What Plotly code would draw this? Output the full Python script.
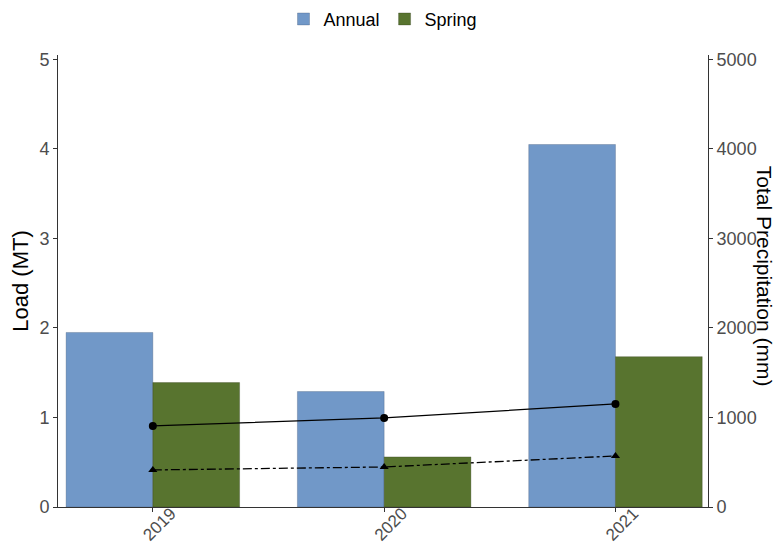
import plotly.graph_objects as go

years = [2019, 2020, 2021]
load_annual = [1.95, 1.29, 4.05]
load_spring = [1.39, 0.56, 1.68]
precip_annual = [906, 995, 1152]
precip_spring = [414, 447, 570]

blue = "#7198c8"
green = "#58742f"
font = "Liberation Sans, Arial, sans-serif"

fig = go.Figure()
fig.add_trace(go.Bar(x=years, y=load_annual, name="Annual", marker=dict(color=blue, line=dict(color="rgba(60,80,110,0.5)", width=0.6)), showlegend=True))
fig.add_trace(go.Bar(x=years, y=load_spring, name="Spring", marker=dict(color=green, line=dict(color="rgba(40,50,20,0.5)", width=0.6)), showlegend=True))
fig.add_trace(go.Scatter(x=years, y=precip_annual, yaxis="y2", mode="lines+markers",
                         line=dict(color="black", width=1.3), marker=dict(symbol="circle", size=8, color="black"),
                         showlegend=False))
fig.add_trace(go.Scatter(x=years, y=precip_spring, yaxis="y2", mode="lines+markers",
                         line=dict(color="black", width=1.3, dash="dashdot"), marker=dict(symbol="triangle-up", size=8, color="black"),
                         showlegend=False))

fig.update_layout(
    width=773, height=541,
    margin=dict(l=50, r=73, t=47, b=42),
    paper_bgcolor="white", plot_bgcolor="white",
    font=dict(family=font, size=18, color="#4d4d4d"),
    barmode="group", bargap=0.25, bargroupgap=0,
    legend=dict(orientation="h", x=0.5, xanchor="center", y=0.945, yanchor="bottom",
                yref="container", font=dict(size=18, color="black")),
    xaxis=dict(range=[2018.59, 2021.40], tickvals=years, ticktext=[str(y) for y in years],
               tickangle=-45, showline=True, linecolor="#333333", linewidth=1, automargin=False,
               ticks="outside", ticklen=4, tickcolor="#333333", showgrid=False, zeroline=False,
               ticklabelshift=18, ticklabelstandoff=-15,
               tickfont=dict(size=17, color="#4d4d4d")),
    yaxis=dict(range=[0, 5.05], tickvals=[0, 1, 2, 3, 4, 5], showline=True, linecolor="#333333",
               linewidth=1, ticks="outside", ticklen=4, tickcolor="#333333", showgrid=False, zeroline=False,
               automargin=False,
               title=dict(text="Load (MT)", font=dict(size=22, color="black"), standoff=6),
               tickfont=dict(size=18, color="#4d4d4d")),
    yaxis2=dict(range=[0, 5050], tickvals=[0, 1000, 2000, 3000, 4000, 5000], overlaying="y", side="right",
                showline=True, linecolor="#333333", linewidth=1, ticks="outside", ticklen=4, automargin=False,
                tickcolor="#333333", showgrid=False, zeroline=False,
                tickfont=dict(size=18, color="#4d4d4d")),
)
fig.add_annotation(text="Total Precipitation (mm)", xref="paper", yref="paper", x=1.088, y=0.511,
                   textangle=90, showarrow=False, font=dict(size=21, color="black", family=font),
                   xanchor="center", yanchor="middle")

fig.write_html("out.html")
